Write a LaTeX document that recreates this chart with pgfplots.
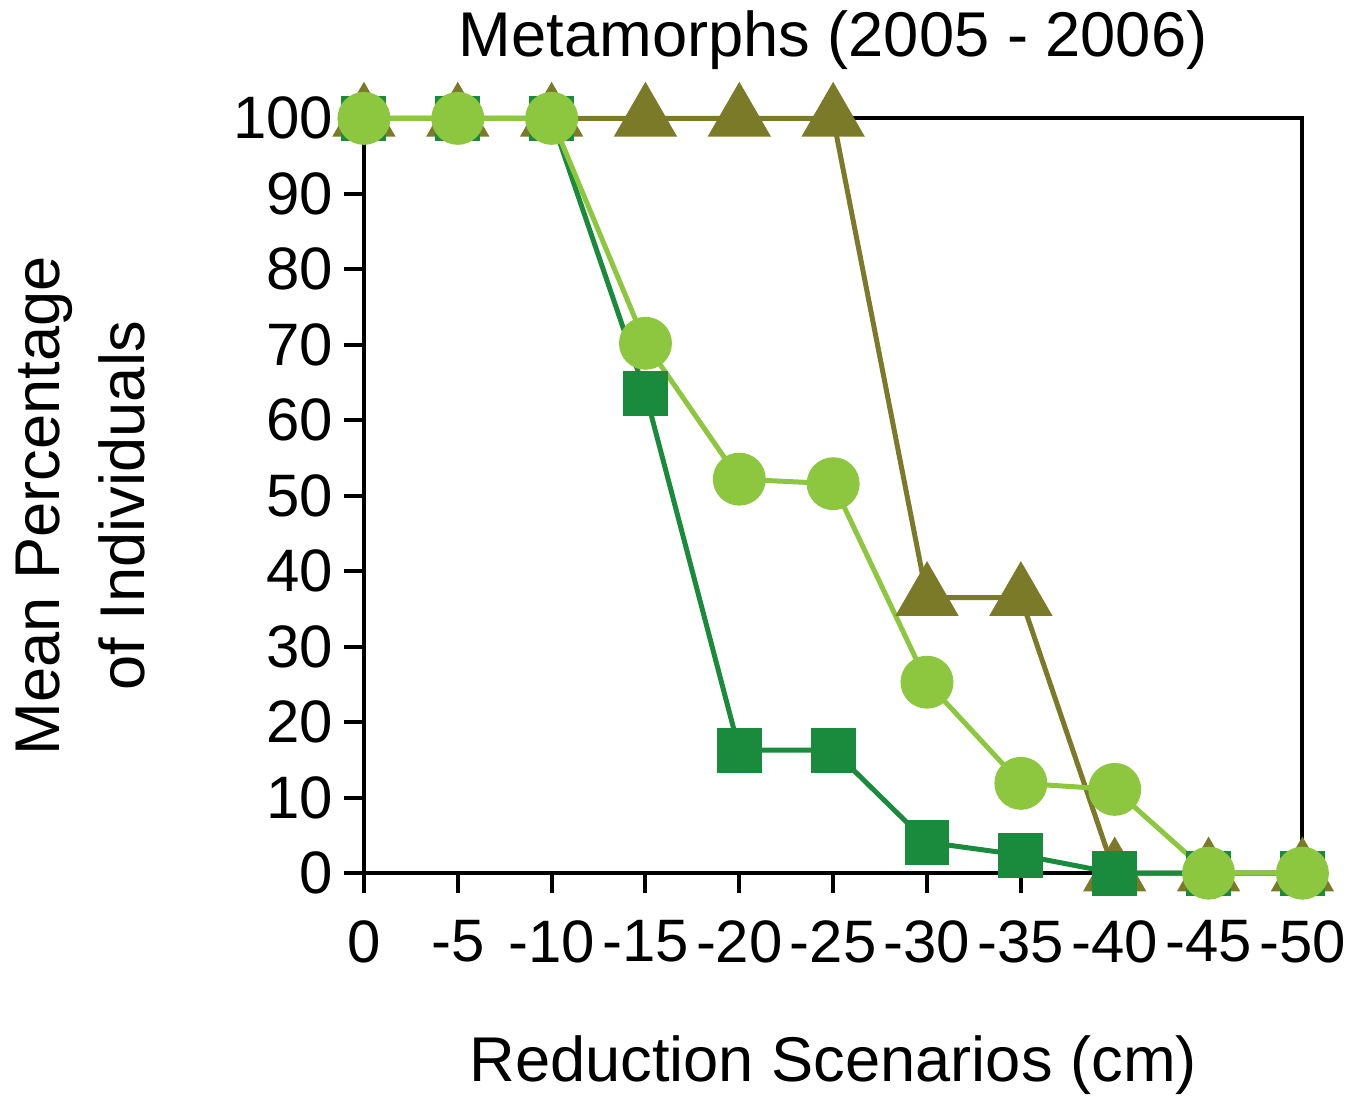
\documentclass[border={1.5pt 0pt 4.5pt 0pt}]{standalone}
\usepackage{pgfplots}
\pgfplotsset{compat=1.18}
\usepackage{fontspec}
\setmainfont{Liberation Sans}
\definecolor{olivec}{HTML}{7A7A28}
\definecolor{darkg}{HTML}{1A8A3C}
\definecolor{lightg}{HTML}{8DC63F}
\begin{document}
\begin{tikzpicture}
\begin{axis}[
  scale only axis,
  width=282pt, height=226.8pt,
  xmin=0, xmax=10, ymin=0, ymax=100,
  axis line style={black, line width=1.2pt},
  xtick={0,...,10},
  xticklabels={0,-5,-10,-15,-20,-25,-30,-35,-40,-45,-50},
  ytick={0,10,...,100},
  tick align=outside,
  major tick length=6pt,
  tick style={black, line width=1.2pt},
  xtick pos=bottom, ytick pos=left,
  /pgf/number format/assume math mode=true,
  tick label style={font=\fontsize{18}{21}\selectfont},
  x tick label style={inner sep=1pt, yshift=-7pt},
  y tick label style={inner sep=1pt, xshift=-2pt},
  title={Metamorphs (2005 - 2006)},
  title style={font=\fontsize{19}{22}\selectfont, at={(0.5,1)}, anchor=south, yshift=5pt},
  xlabel={Reduction Scenarios (cm)},
  xlabel style={font=\fontsize{19}{22}\selectfont, yshift=-17.5pt},
  ylabel={Mean Percentage\\of Individuals},
  ylabel style={font=\fontsize{19}{25.5}\selectfont, align=center, yshift=22pt, xshift=-3pt},
  clip=false,
]
\addplot[olivec, line width=1.5pt, mark=triangle*, mark size=9.5pt, mark options={solid, fill=olivec, draw=olivec}]
coordinates {(0,100)(1,100)(2,100)(3,100)(4,100)(5,100)(6,36.5)(7,36.5)(8,0)(9,0)(10,0)};
\addplot[darkg, line width=1.5pt, mark=square*, mark size=6pt, mark options={solid, fill=darkg, draw=darkg}]
coordinates {(0,100)(1,100)(2,100)(3,63.6)(4,16.3)(5,16.3)(6,4.1)(7,2.4)(8,0)(9,0)(10,0)};
\addplot[lightg, line width=1.5pt, mark=*, mark size=7.2pt, mark options={solid, fill=lightg, draw=lightg}]
coordinates {(0,100)(1,100)(2,100)(3,70.2)(4,52.2)(5,51.6)(6,25.3)(7,11.9)(8,11.1)(9,0)(10,0)};
\end{axis}
\end{tikzpicture}
\end{document}
